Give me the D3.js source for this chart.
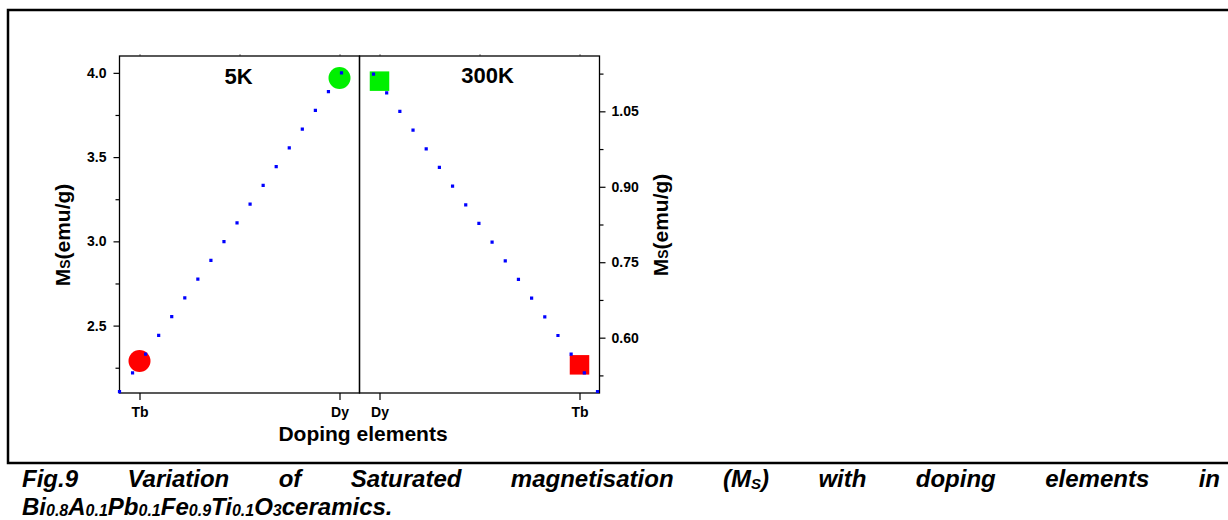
<!DOCTYPE html>
<html><head><meta charset="utf-8">
<script src="https://cdn.jsdelivr.net/npm/d3@7"></script>
<style>
html,body{margin:0;padding:0;background:#fff;}
svg{display:block;font-family:"Liberation Sans",Arial,Helvetica,sans-serif;}
</style></head><body>
<svg id="chart" width="1228" height="520"></svg>
<script>
// Doping elements along the category axis of each panel
const categories5K = ["Tb", "Dy"];
const categories300K = ["Dy", "Tb"];
// Saturated magnetisation Ms (emu/g)
const ms5K = [2.29, 3.97];
const ms300K = [1.11, 0.546];
// Dotted guide lines (category position, Ms)
const guide5KX = [0.9, 2.01];
const guide5KY = [2.108, 4.0];
const guide300KX = [0.97, 2.09];
const guide300KY = [1.124, 0.493];
// Axis ticks
const ticks5K = [2.5, 3.0, 3.5, 4.0];
const minor5K = [2.25, 2.75, 3.25, 3.75];
const ticks300K = [0.60, 0.75, 0.90, 1.05];
const minor300K = [0.525, 0.675, 0.825, 0.975, 1.125];
const panelTitles = ["5K", "300K"];
const markerColor = {Tb: "#ff0000", Dy: "#00f000"};
// Caption text (underscore marks a subscript)
const captionLine1 = ["Fig.9", "Variation", "of", "Saturated", "magnetisation", "(M_S)", "with", "doping", "elements", "in"];
const captionLine2 = "Bi_0.8A_0.1Pb_0.1Fe_0.9Ti_0.1O_3ceramics.";

const svg = d3.select("#chart");

// Outer frame of the figure
svg.append("rect").attr("x", 8).attr("y", 10).attr("width", 1240).attr("height", 453)
  .attr("fill", "none").attr("stroke", "#000").attr("stroke-width", 2.5);

const plotTop = 56, plotBottom = 393;
const x5 = d3.scaleLinear().domain([0.9, 2.1]).range([119.5, 359.5]);
const x300 = d3.scaleLinear().domain([0.9, 2.1]).range([359.5, 599.5]);
const y5 = d3.scaleLinear().domain([2.1, 4.1]).range([plotBottom, plotTop]);
const y300 = d3.scaleLinear().domain([0.49, 1.16]).range([plotBottom, plotTop]);

function styleAxis(g, size) {
  g.select(".domain").remove();
  g.selectAll("line").attr("stroke", "#000").attr("stroke-width", 1.2);
  g.selectAll("text").attr("font-size", size).attr("font-weight", "bold").attr("fill", "#000")
    .attr("font-family", "'Liberation Sans',Arial,sans-serif");
}

// Left y axis (5K)
svg.append("g").attr("transform", `translate(${x5.range()[0]},0)`)
  .call(d3.axisLeft(y5).tickValues(ticks5K).tickFormat(d3.format(".1f")).tickSize(6).tickPadding(7))
  .call(g => styleAxis(g, 14));
svg.append("g").attr("transform", `translate(${x5.range()[0]},0)`)
  .call(d3.axisLeft(y5).tickValues(minor5K).tickFormat("").tickSize(4))
  .call(g => styleAxis(g, 14));

// Right y axis (300K)
svg.append("g").attr("transform", `translate(${x300.range()[1]},0)`)
  .call(d3.axisRight(y300).tickValues(ticks300K).tickFormat(d3.format(".2f")).tickSize(6).tickPadding(6))
  .call(g => styleAxis(g, 14));
svg.append("g").attr("transform", `translate(${x300.range()[1]},0)`)
  .call(d3.axisRight(y300).tickValues(minor300K).tickFormat("").tickSize(4))
  .call(g => styleAxis(g, 14));

// Bottom category axes
svg.append("g").attr("transform", `translate(0,${plotBottom})`)
  .call(d3.axisBottom(x5).tickValues([1, 2]).tickFormat(d => categories5K[d - 1]).tickSize(7).tickPadding(6.7))
  .call(g => styleAxis(g, 14));
svg.append("g").attr("transform", `translate(0,${plotBottom})`)
  .call(d3.axisBottom(x300).tickValues([1, 2]).tickFormat(d => categories300K[d - 1]).tickSize(7).tickPadding(6.7))
  .call(g => styleAxis(g, 14));

// Tiny ticks along the top edge
[x5, x300].forEach(sc => {
  svg.append("g").attr("transform", `translate(0,${plotTop})`)
    .call(d3.axisTop(sc).tickValues([1, 1.5, 2]).tickFormat("").tickSize(2))
    .call(g => { g.select(".domain").remove(); g.selectAll("line").attr("stroke", "#777").attr("stroke-width", 1); });
});

// Panel frames
[x5, x300].forEach(sc => {
  svg.append("rect").attr("x", sc.range()[0]).attr("y", plotTop)
    .attr("width", sc.range()[1] - sc.range()[0]).attr("height", plotBottom - plotTop)
    .attr("fill", "none").attr("stroke", "#000").attr("stroke-width", 1.3);
});

// Markers: circles at 5K, squares at 300K
svg.append("g").selectAll("circle").data(categories5K).join("circle")
  .attr("cx", (d, i) => x5(i + 1)).attr("cy", (d, i) => y5(ms5K[i])).attr("r", 11)
  .attr("fill", d => markerColor[d]);
const sq = 19.5;
svg.append("g").selectAll("rect").data(categories300K).join("rect")
  .attr("x", (d, i) => x300(i + 1) - sq / 2).attr("y", (d, i) => y300(ms300K[i]) - sq / 2)
  .attr("width", sq).attr("height", sq).attr("fill", d => markerColor[d]);

// Dotted guide lines
function drawGuide(xs, ys, xs_, ys_) {
  const pts = xs.map((v, i) => [xs_(v), ys_(ys[i])]);
  const path = svg.append("path").attr("d", d3.line()(pts)).attr("fill", "none")
    .attr("stroke", "#0000ff").attr("stroke-width", 3.2).attr("stroke-linecap", "square");
  const len = path.node().getTotalLength();
  const n = Math.round(len / 22.85);
  path.attr("stroke-dasharray", `0 ${(len - 0.01) / n}`);
}
drawGuide(guide5KX, guide5KY, x5, y5);
drawGuide(guide300KX, guide300KY, x300, y300);

// Panel titles
svg.append("text").attr("x", d3.mean(x5.range()) - 1).attr("y", 84).attr("text-anchor", "middle")
  .attr("font-size", 22).attr("font-weight", "bold").text(panelTitles[0]);
svg.append("text").attr("x", d3.mean(x300.range()) + 8).attr("y", 83).attr("text-anchor", "middle")
  .attr("font-size", 22).attr("font-weight", "bold").text(panelTitles[1]);

// Rich text helper: "_xx" becomes a subscript
function rich(sel, str, subSize, shift) {
  const parts = str.split(/_(\d+(?:\.\d+)?|S)/);
  parts.forEach((p, i) => {
    if (!p) return;
    const t = sel.append("tspan").text(p);
    if (i % 2 === 1) t.attr("font-size", subSize).attr("dy", shift);
    else if (i > 0) t.attr("dy", -shift);
  });
}

// Axis titles
const yt1 = svg.append("text").attr("transform", "translate(70,235) rotate(-90)")
  .attr("text-anchor", "middle").attr("font-size", 21).attr("font-weight", "bold");
rich(yt1, "M_S(emu/g)", 14, 0);
const yt2 = svg.append("text").attr("transform", "translate(668,225) rotate(-90)")
  .attr("text-anchor", "middle").attr("font-size", 21).attr("font-weight", "bold");
rich(yt2, "M_S(emu/g)", 14, 0);
svg.append("text").attr("x", 363).attr("y", 441).attr("text-anchor", "middle")
  .attr("font-size", 21).attr("font-weight", "bold").text("Doping elements");

// Caption, first line justified across the width
const capG = svg.append("g").attr("font-size", 24).attr("font-weight", "bold").attr("font-style", "italic");
const words = captionLine1.map(w => {
  const t = capG.append("text").attr("y", 487);
  rich(t, w, 15, 2);
  return t;
});
const widths = words.map(t => t.node().getComputedTextLength());
const capLeft = 22, capRight = 1220;
const gap = (capRight - capLeft - d3.sum(widths)) / (words.length - 1);
let cx = capLeft;
words.forEach((t, i) => { t.attr("x", cx); cx += widths[i] + gap; });
const l2 = capG.append("text").attr("x", 22).attr("y", 514.5);
rich(l2, captionLine2, 16, 1);
</script>
</body></html>
